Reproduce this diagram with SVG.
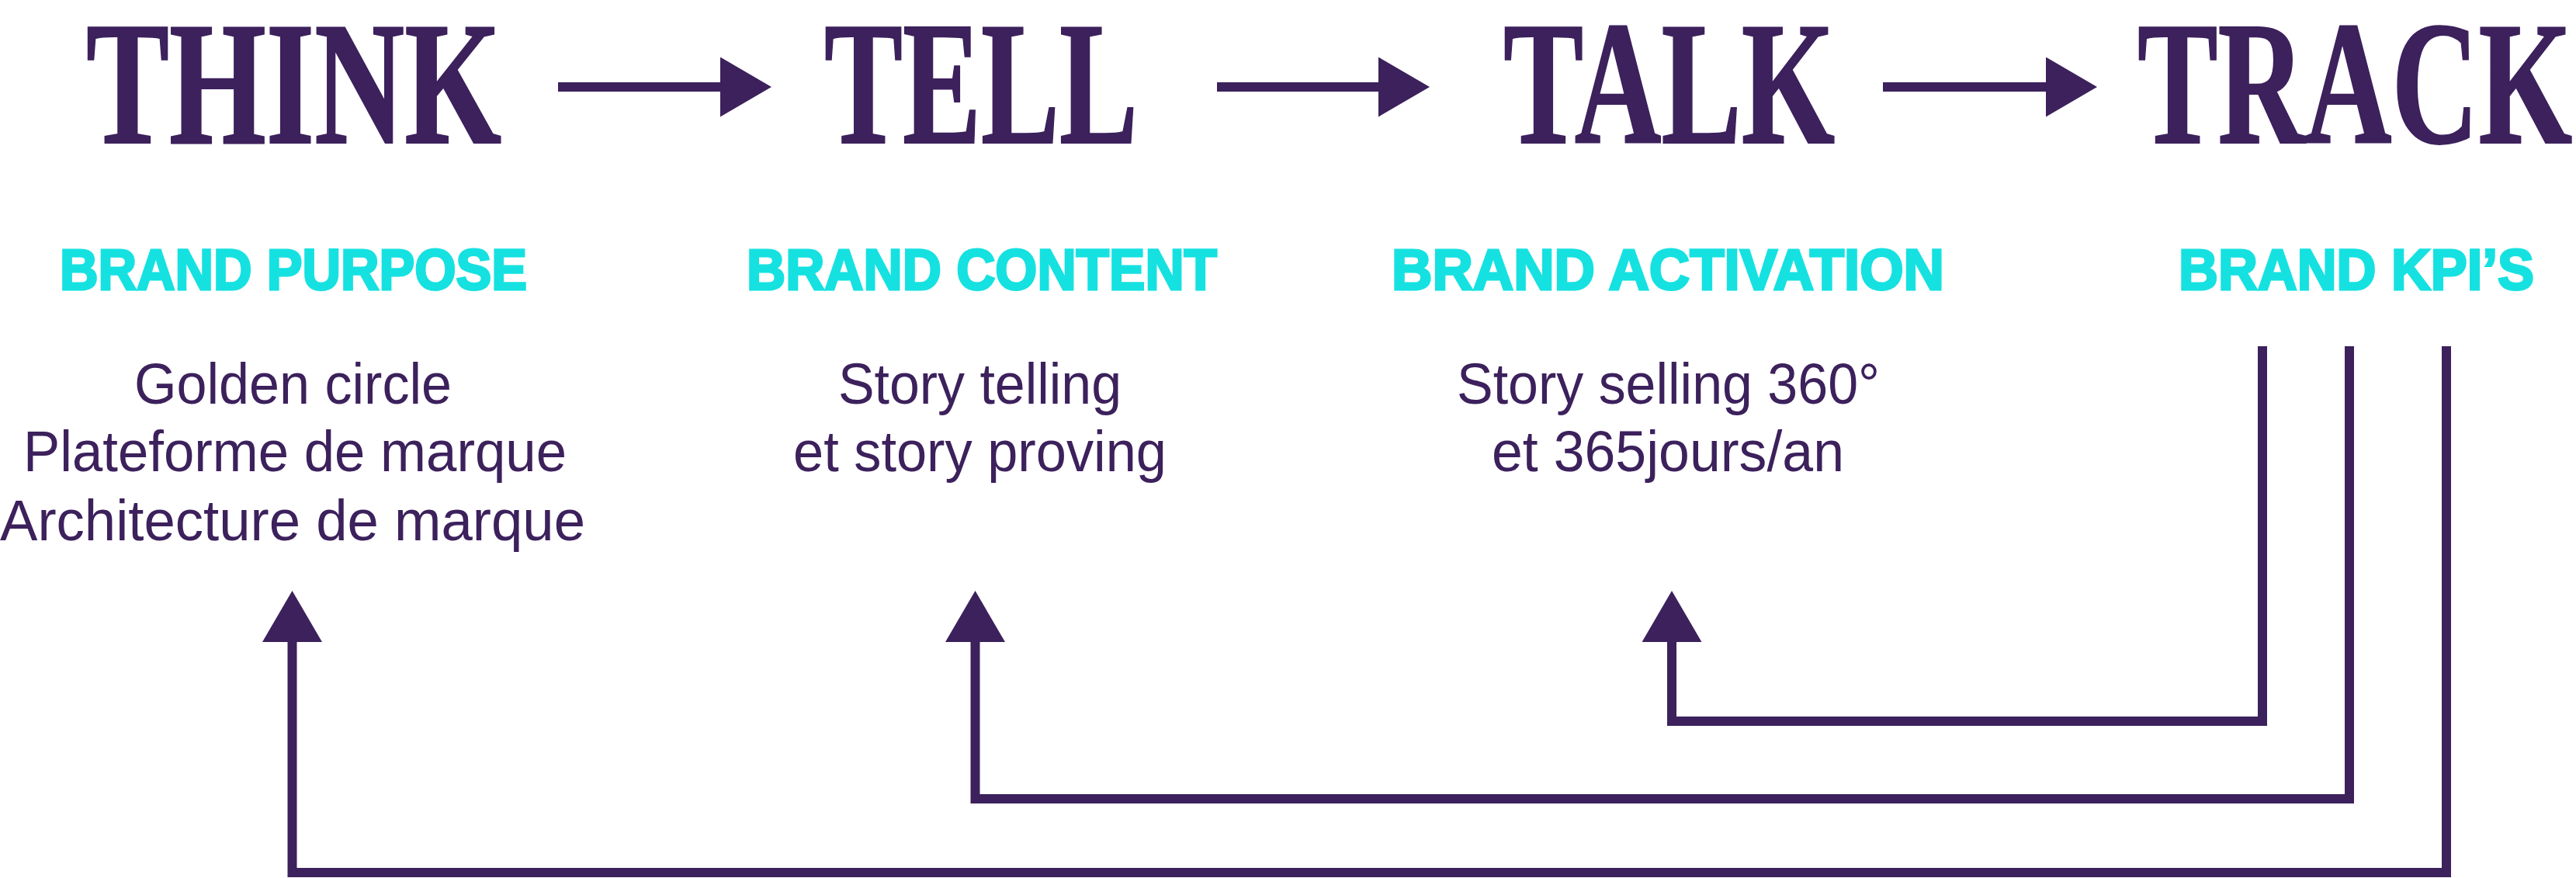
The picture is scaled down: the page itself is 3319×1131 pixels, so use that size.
<svg xmlns="http://www.w3.org/2000/svg" width="3319" height="1131" viewBox="0 0 3319 1131">
  <style>
    .head { font-family: "Liberation Serif", "Times New Roman", serif; font-weight: bold; font-size: 226px; fill: #3c215c; stroke: #3c215c; stroke-width: 2; }
    .sub { font-family: "Liberation Sans", Arial, sans-serif; font-weight: bold; font-size: 74px; fill: #16e1e1; stroke: #16e1e1; stroke-width: 3; }
    .body { font-family: "Liberation Sans", Arial, sans-serif; font-weight: normal; font-size: 74px; fill: #3c215c; }
    .conn { fill: none; stroke: #3c215c; stroke-width: 12; stroke-linejoin: miter; stroke-linecap: butt; }
  </style>
  <defs>
    <marker id="head" markerUnits="userSpaceOnUse" viewBox="0 0 66 77" markerWidth="66" markerHeight="77" refX="0" refY="38.5" orient="auto">
      <path d="M0,0 L66,38.5 L0,77 Z" fill="#3c215c"/>
    </marker>
  </defs>
  <rect width="3319" height="1131" fill="#ffffff"/>

  <g id="think">
    <text class="head" x="111" y="184" textLength="535" lengthAdjust="spacingAndGlyphs">THINK</text>
    <text class="sub" x="77" y="373" textLength="602" lengthAdjust="spacingAndGlyphs">BRAND PURPOSE</text>
    <text class="body" x="173" y="520" textLength="409" lengthAdjust="spacingAndGlyphs">Golden circle</text>
    <text class="body" x="30" y="607" textLength="700" lengthAdjust="spacingAndGlyphs">Plateforme de marque</text>
    <text class="body" x="0" y="696" textLength="754" lengthAdjust="spacingAndGlyphs">Architecture de marque</text>
  </g>

  <g id="tell">
    <text class="head" x="1062" y="184" textLength="404" lengthAdjust="spacingAndGlyphs">TELL</text>
    <text class="sub" x="962" y="373" textLength="606" lengthAdjust="spacingAndGlyphs">BRAND CONTENT</text>
    <text class="body" x="1080" y="520" textLength="365" lengthAdjust="spacingAndGlyphs">Story telling</text>
    <text class="body" x="1022" y="607" textLength="481" lengthAdjust="spacingAndGlyphs">et story proving</text>
  </g>

  <g id="talk">
    <text class="head" x="1937" y="184" textLength="427" lengthAdjust="spacingAndGlyphs">TALK</text>
    <text class="sub" x="1793" y="373" textLength="712" lengthAdjust="spacingAndGlyphs">BRAND ACTIVATION</text>
    <text class="body" x="1877" y="520" textLength="545" lengthAdjust="spacingAndGlyphs">Story selling 360°</text>
    <text class="body" x="1922" y="607" textLength="454" lengthAdjust="spacingAndGlyphs">et 365jours/an</text>
  </g>

  <g id="track">
    <text class="head" x="2754" y="184" textLength="560" lengthAdjust="spacingAndGlyphs">TRACK</text>
    <text class="sub" x="2807" y="373" textLength="458" lengthAdjust="spacingAndGlyphs">BRAND KPI’S</text>
  </g>

  <g id="connectors">
    <path class="conn" d="M719,112 H928" marker-end="url(#head)"/>
    <path class="conn" d="M1568,112 H1776" marker-end="url(#head)"/>
    <path class="conn" d="M2426,112 H2636" marker-end="url(#head)"/>
    <path class="conn" d="M2915,446 V929 H2154 V827" marker-end="url(#head)"/>
    <path class="conn" d="M3027,446 V1029 H1256.5 V827" marker-end="url(#head)"/>
    <path class="conn" d="M3152,446 V1124 H376.5 V827" marker-end="url(#head)"/>
  </g>
</svg>
